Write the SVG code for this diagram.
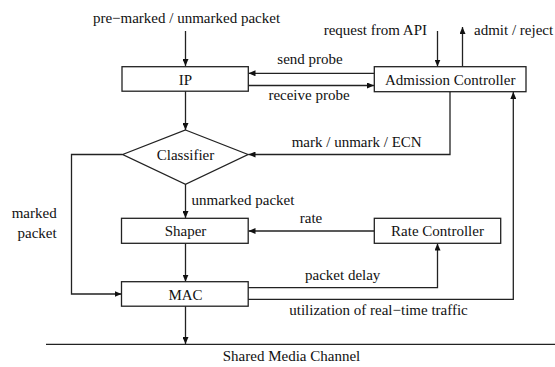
<svg xmlns="http://www.w3.org/2000/svg" width="555" height="367" viewBox="0 0 555 367">
<style>
text{font-family:"Liberation Serif","Times New Roman",serif;font-size:15px;fill:#111}
.b{fill:#fff;stroke:#222;stroke-width:1.3}
.c{fill:none;stroke:#222;stroke-width:1.3}
.m{text-anchor:middle}
.e{text-anchor:end}
</style>
<defs>
<marker id="a" markerWidth="8" markerHeight="6" refX="7" refY="3" orient="auto" markerUnits="userSpaceOnUse">
<path d="M0,0 L7,3 L0,6 z" fill="#111"/>
</marker>
</defs>
<rect x="0" y="0" width="555" height="367" fill="#fff"/>
<g id="connectors">
<path class="c" d="M185.5,31 V66" marker-end="url(#a)"/>
<path class="c" d="M185.5,91 V130" marker-end="url(#a)"/>
<path class="c" d="M374,73.3 H248.5" marker-end="url(#a)"/>
<path class="c" d="M248,85.5 H374" marker-end="url(#a)"/>
<path class="c" d="M437.5,31 V66.5" marker-end="url(#a)"/>
<path class="c" d="M462.5,66.5 V27" marker-end="url(#a)"/>
<path class="c" d="M450,91.5 V154.5 H248.5" marker-end="url(#a)"/>
<path class="c" d="M185.5,184 V218" marker-end="url(#a)"/>
<path class="c" d="M122.5,154.5 H71.5 V294 H121.5" marker-end="url(#a)"/>
<path class="c" d="M185.5,243.3 V281.7" marker-end="url(#a)"/>
<path class="c" d="M374.3,231 H248.5" marker-end="url(#a)"/>
<path class="c" d="M248,287.7 H437.5 V243.5" marker-end="url(#a)"/>
<path class="c" d="M248,299.3 H513.3 V92" marker-end="url(#a)"/>
<path class="c" d="M185.5,306 V344" marker-end="url(#a)"/>
<text class="m" x="186.5" y="23">pre−marked / unmarked packet</text>
<text class="e" x="427" y="35">request from API</text>
<text x="474" y="35">admit / reject</text>
<text class="m" x="310" y="63.5">send probe</text>
<text class="m" x="309" y="100">receive probe</text>
<text class="e" x="421.7" y="146.7">mark / unmark / ECN</text>
<text x="191.5" y="205">unmarked packet</text>
<text class="e" x="56.7" y="218.3">marked</text>
<text class="e" x="56.7" y="238.3">packet</text>
<text class="m" x="311" y="223">rate</text>
<text class="m" x="342.7" y="280">packet delay</text>
<text class="m" x="378.5" y="315">utilization of real−time traffic</text>
</g>
<g id="ip"><rect class="b" x="122" y="66.7" width="126.3" height="24.5"/><text class="m" x="185.5" y="84.5">IP</text></g>
<g id="admission"><rect class="b" x="374.3" y="66.7" width="151.7" height="25"/><text class="m" x="450.2" y="84.5">Admission Controller</text></g>
<g id="classifier"><path class="b" d="M185.5,130 L248,154.5 L185.5,184.3 L122.7,154.5 z"/><text class="m" x="185.5" y="159.5">Classifier</text></g>
<g id="shaper"><rect class="b" x="121.5" y="218.3" width="126.7" height="25"/><text class="m" x="185.5" y="236">Shaper</text></g>
<g id="rate"><rect class="b" x="374.3" y="218.3" width="126.4" height="25"/><text class="m" x="437.5" y="236">Rate Controller</text></g>
<g id="mac"><rect class="b" x="121.5" y="281.7" width="126.7" height="24.5"/><text class="m" x="185.5" y="299.5">MAC</text></g>
<g id="channel"><path class="c" d="M46,344.3 H555"/><text class="m" x="291.5" y="360.7">Shared Media Channel</text></g>
</svg>
